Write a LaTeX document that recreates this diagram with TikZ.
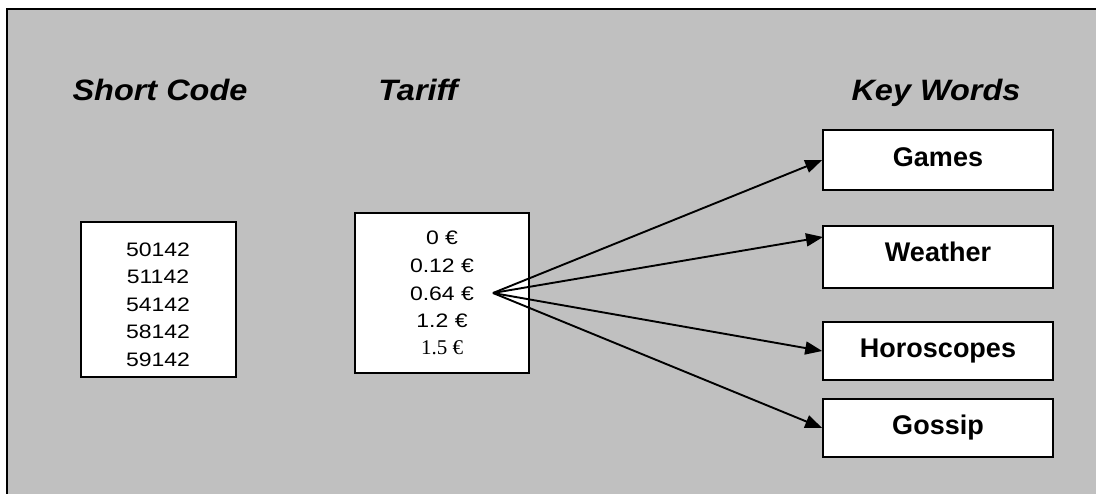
\documentclass[tikz,border=0pt]{standalone}
\usepackage{fontspec}
\setmainfont{Liberation Sans}
\newfontfamily\numfont[FakeStretch=1.18]{Liberation Sans}
\newfontfamily\titlefont[FakeStretch=1.1]{Liberation Sans}
\newfontfamily\sernum{Liberation Serif}
\usetikzlibrary{arrows.meta}
\definecolor{panelgray}{RGB}{192,192,192}
\begin{document}
\begin{tikzpicture}[x=1pt,y=-1pt,
  box/.style={draw=black,fill=white,line width=1.6pt,inner sep=0pt},
  title/.style={anchor=base,font=\titlefont\fontsize{29.5}{34}\selectfont\bfseries\itshape},
  num/.style={anchor=base,font=\numfont\fontsize{19.5}{23}\selectfont},
  kw/.style={anchor=base,font=\fontsize{27}{32}\selectfont\bfseries},
  arr/.style={line width=1.9pt,-{Triangle[length=17pt,width=13pt]}}]
\useasboundingbox (0,0) rectangle (1096,494);
\fill[white] (0,0) rectangle (1096,494);
\fill[panelgray] (7,9) rectangle (1096,494);
\draw[line width=2.2pt] (7,494) -- (7,9) -- (1096,9);

% titles
\node[title] (tshort) at (160,101) {Short Code};
\node[title] (ttariff) at (418,101) {Tariff};
\node[title] (tkey) at (936,101) {Key Words};

% boxes
\node[box,minimum width=155pt,minimum height=155pt] (codes) at (158.5,299.5) {};
\node[box,minimum width=174pt,minimum height=160pt] (tariff) at (442,293) {};
\node[box,minimum width=230pt,minimum height=60pt] (games) at (938,160) {};
\node[box,minimum width=230pt,minimum height=62pt] (weather) at (938,257) {};
\node[box,minimum width=230pt,minimum height=58pt] (horo) at (938,351) {};
\node[box,minimum width=230pt,minimum height=58pt] (gossip) at (938,428) {};

% short codes
\node[num] (c1) at (158,256.5) {50142};
\node[num] (c2) at (158,284) {51142};
\node[num] (c3) at (158,311.5) {54142};
\node[num] (c4) at (158,339) {58142};
\node[num] (c5) at (158,366.5) {59142};

% tariffs
\node[num] (p1) at (442,245) {0 €};
\node[num] (p2) at (442,273) {0.12 €};
\node[num] (p3) at (442,301) {0.64 €};
\node[num] (p4) at (442,328) {1.2 €};
\node[anchor=base,font=\sernum\fontsize{21}{25}\selectfont] (p5) at (442,355) {1.5 €};

% key words
\node[kw] (kg) at (938,167) {Games};
\node[kw] (kwt) at (938,262) {Weather};
\node[kw] (kh) at (938,358) {Horoscopes};
\node[kw] (kgo) at (938,435) {Gossip};

% connectors
\coordinate (hub) at (493,293);
\coordinate (wtip) at (823,237);
\draw[arr] (hub) -- (games.west);
\draw[arr] (hub) -- (wtip);
\draw[arr] (hub) -- (horo.west);
\draw[arr] (hub) -- (gossip.west);
\end{tikzpicture}
\end{document}
